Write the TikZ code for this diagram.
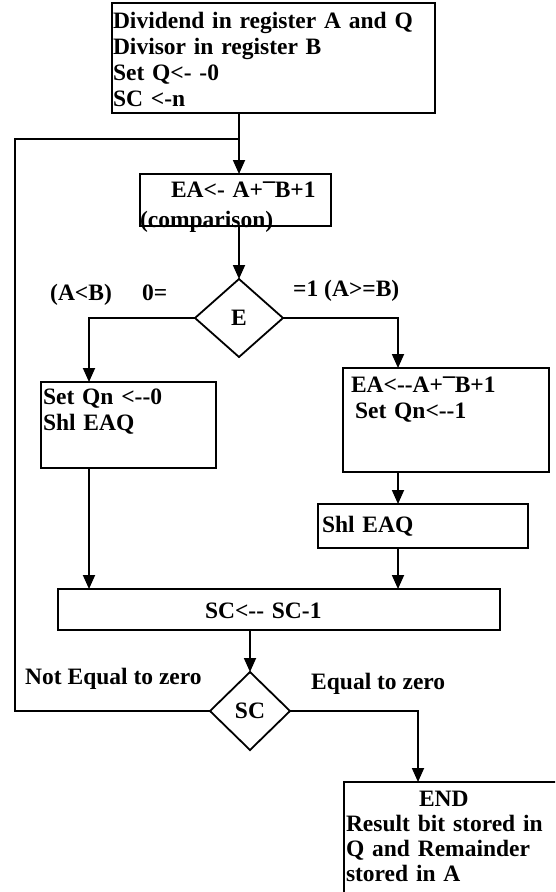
\documentclass[tikz,border=0pt]{standalone}
\usepackage{fontspec}
\setmainfont{Liberation Serif}
\usetikzlibrary{shapes.geometric, arrows.meta}

\newcommand{\negB}{\raisebox{-2.5pt}{¯}B}

\begin{document}
\begin{tikzpicture}[x=1pt, y=-1pt,
    every node/.style={font=\fontsize{23.5}{26}\selectfont\bfseries},
    box/.style={rectangle, draw, line width=1.8pt, anchor=north west, align=left, inner xsep=1pt, inner ysep=0pt, outer sep=0pt},
    decision/.style={diamond, draw, line width=1.8pt, inner sep=0pt, outer sep=0pt},
    lbl/.style={anchor=base west, inner sep=0pt},
    conn/.style={line width=1.8pt},
    arrow/.style={conn, -{Triangle[length=14pt, width=12pt]}}
  ]
    \useasboundingbox (0,0) rectangle (555,892);
    \clip (0,0) rectangle (555,892);

    % Columns of the connectors
    \coordinate (loop) at (15,139);
    \coordinate (lcol) at (89,0);
    \coordinate (rcol) at (398,0);
    \coordinate (ecol) at (418,0);

    % Start
    \node[box, text width=321pt, text height=25pt, text depth=85pt] (start) at (112,3) {Dividend in register A and Q\\Divisor in register B\\Set Q<- -0\\SC <-n};

    % Comparison and test of E
    \node[box, inner xsep=0pt, text width=191pt, text height=23pt, text depth=29pt] (cmp) at (140,174) {\hspace*{31pt}EA<- A+\negB+1\\[4pt](comparison)};
    \node[decision, minimum width=88pt, minimum height=78pt] (E) at (239,318) {E};
    \node[lbl] (less) at (50,300) {(A<B)};
    \node[lbl] (zero) at (142,300) {0=};
    \node[lbl] (one) at (293,296) {=1 (A>=B)};

    % Branches
    \node[box, inner xsep=2pt, text width=171pt, text height=22pt, text depth=64pt] (qzero) at (41,382) {Set Qn <-{}-0\\Shl EAQ};
    \node[box, inner xsep=8pt, text width=190pt, text height=24pt, text depth=80pt] (qone) at (343,368) {EA<-{}-A+\negB+1\\\hspace*{4pt}Set Qn<-{}-1};
    \node[box, inner xsep=4pt, text width=202pt, text height=28pt, text depth=16pt] (shl) at (318,504) {Shl EAQ};

    % Counter
    \node[box, inner xsep=0pt, text width=442pt, text height=29pt, text depth=12pt] (scbox) at (58,589) {\hspace*{147pt}SC<-{}- SC-1};
    \node[decision, minimum width=80pt, minimum height=78pt] (scd) at (250,711) {SC};
    \node[lbl] (neq) at (25,684) {Not Equal to zero};
    \node[lbl] (eq) at (311,689) {Equal to zero};

    % End
    \node[box, inner xsep=2pt, text width=260pt, text height=24pt, text depth=130pt] (stop) at (344,782) {\hspace*{73pt}END\\[-1pt]Result bit stored in\\[-1pt]Q and Remainder\\[-1pt]stored in A};

    % Connections
    \draw[arrow] (start.south -| E) -- (cmp.north -| E);
    \draw[conn] (scd.west) -| (loop) -- (loop -| E);
    \draw[arrow] (cmp.south -| E) -- (E.north);
    \draw[arrow] (E.west) -| (lcol |- qzero.north);
    \draw[arrow] (E.east) -| (rcol |- qone.north);
    \draw[arrow] (qone.south -| rcol) -- (shl.north -| rcol);
    \draw[arrow] (qzero.south -| lcol) -- (scbox.north -| lcol);
    \draw[arrow] (shl.south -| rcol) -- (scbox.north -| rcol);
    \draw[arrow] (scbox.south -| scd) -- (scd.north);
    \draw[arrow] (scd.east) -| (ecol |- stop.north);
\end{tikzpicture}
\end{document}
